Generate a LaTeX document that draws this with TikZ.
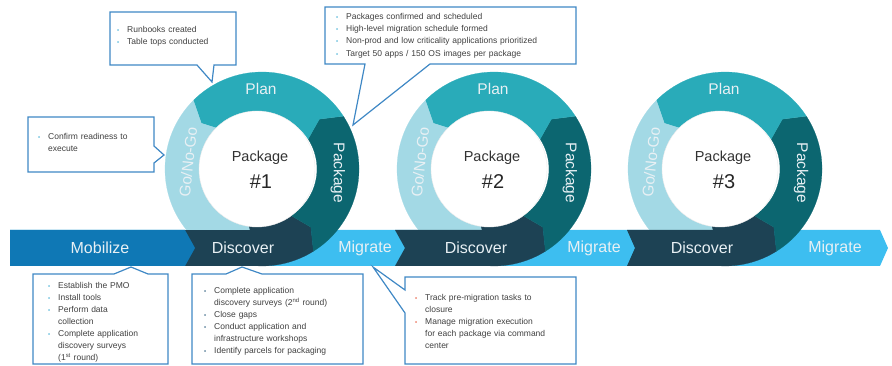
\documentclass[tikz,border=0pt]{standalone}
\usepackage{fontspec}
\setmainfont{Liberation Sans}
\usetikzlibrary{calc}
\definecolor{cplan}{HTML}{29ABB9}
\definecolor{cpack}{HTML}{0C6670}
\definecolor{cdisc}{HTML}{1D4254}
\definecolor{cgo}{HTML}{A3D9E5}
\definecolor{cmob}{HTML}{0F78B5}
\definecolor{cmig}{HTML}{3DBEF0}
\definecolor{cbox}{HTML}{3F88C5}
\definecolor{cbulb}{HTML}{45B0D5}
\definecolor{cbuld}{HTML}{2F5F7F}
\definecolor{cbulo}{HTML}{E8573A}
\definecolor{ctext}{HTML}{404040}
\definecolor{clbl}{HTML}{E8F0F4}
\setlength{\parskip}{0pt}
\tikzset{
 callout/.style={fill=white, draw=cbox, line width=1.2pt, line join=miter},
 ctxt/.style={anchor=north west, inner sep=0pt, text width=240pt, align=left, text=ctext, font=\fontsize{8.5}{12}\selectfont},
 bandlbl/.style={text=clbl, font=\fontsize{16}{16}\selectfont, inner sep=0pt},
 ringlbl/.style={text=clbl, font=\fontsize{15.5}{16}\selectfont, inner sep=0pt},
 pkgtxt/.style={text=black!80, font=\fontsize{14.5}{15}\selectfont, inner sep=0pt},
 pkgnum/.style={text=black!85, font=\fontsize{20}{20}\selectfont, inner sep=0pt},
}
\newcommand{\lbr}{\hfil\break}
\newcommand{\bitem}[2]{\noindent\hangindent=10pt\hangafter=1\makebox[10pt][l]{\textcolor{#1}{\fontsize{6}{6}\selectfont\textbullet}}\rule{0pt}{8pt}#2\par}
\newcommand{\seg}[3]{\fill[#1, draw=#1, line width=0.2pt] (#2:97) arc[start angle=#2, end angle=#3, radius=97] -- ({#3+8}:76) -- (#3:55) arc[start angle=#3, end angle=#2, radius=55] -- ({#2+8}:76) -- cycle;}
\newcommand{\pkgring}[4]{%
\begin{scope}[shift={(#1,#2)}, yscale=-1]
 \seg{cdisc}{255}{302}
 \seg{cpack}{-58}{33}
 \seg{cplan}{33}{135}
 \seg{cgo}{135}{255}
 \fill[white, draw=black!8, line width=0.4pt] (-5,0) circle[radius=58];
\end{scope}
 \node[ringlbl] (#4plan) at ($(#1,#2)+(-1,-80)$) {Plan};
 \node[ringlbl, rotate=-90] (#4pack) at ($(#1,#2)+(76,4)$) {Package};
 \node[ringlbl, rotate=84] (#4go) at ($(#1,#2)+(-74,-7)$) {Go/No-Go};
 \node[pkgtxt] (#4t) at ($(#1,#2)+(-2,-11)$) {Package};
 \node[pkgnum] (#4n) at ($(#1,#2)+(-1,13)$) {\##3};
}
\begin{document}
\begin{tikzpicture}[x=1pt, y=-1pt]
\useasboundingbox (0,0) rectangle (892,366);
% band
\fill[cmig] (10,230) -- (880,230) -- (888,248) -- (880,266) -- (10,266) -- cycle;
% rings
\pkgring{262}{169}{1}{r1}
\pkgring{494}{169}{2}{r2}
\pkgring{725}{169}{3}{r3}
% discover band parts
\fill[cdisc] (183,230) -- (262,230) -- (262,266) -- (183,266) -- cycle;
\fill[cdisc] (395,230) -- (494,230) -- (494,266) -- (395,266) -- (405,248) -- cycle;
\fill[cdisc] (627,230) -- (725,230) -- (725,266) -- (627,266) -- (635,248) -- cycle;
% mobilize
\fill[cmob] (10,230) -- (185,230) -- (195,248) -- (185,266) -- (10,266) -- cycle;
% band labels
\node[bandlbl] (lmob) at (100,248) {Mobilize};
\node[bandlbl] (ld1) at (243,248) {Discover};
\node[bandlbl] (lm1) at (365,248) {Migrate};
\node[bandlbl] (ld2) at (476,248) {Discover};
\node[bandlbl] (lm2) at (594,248) {Migrate};
\node[bandlbl] (ld3) at (702,248) {Discover};
\node[bandlbl] (lm3) at (835,248) {Migrate};
% callouts
\draw[callout] (110,12) -- (236,12) -- (236,65) -- (214,65) -- (212,82) -- (197,65) -- (110,65) -- cycle;
\node[ctxt] (ta) at (117,24) {\bitem{cbulb}{Runbooks created}\bitem{cbulb}{Table tops conducted}};
\draw[callout] (28,117) -- (154,117) -- (154,146) -- (164,155) -- (154,163) -- (154,172) -- (28,172) -- cycle;
\node[ctxt] (tb) at (38,131) {\bitem{cbulb}{Confirm readiness to\lbr execute}};
\draw[callout] (325,7) -- (576,7) -- (576,64) -- (430,64) -- (353,125) -- (365,64) -- (325,64) -- cycle;
\node[ctxt, font=\fontsize{8.5}{12.3}\selectfont] (tc) at (336,11) {\bitem{cbulb}{Packages confirmed and scheduled}\bitem{cbulb}{High-level migration schedule formed}\bitem{cbulb}{Non-prod and low criticality applications prioritized}\bitem{cbulb}{Target 50 apps / 150 OS images per package}};
\draw[callout] (33,274) -- (114,274) -- (131,267) -- (148,274) -- (168,274) -- (168,364) -- (33,364) -- cycle;
\node[ctxt] (td) at (48,280) {\bitem{cbulb}{Establish the PMO}\bitem{cbulb}{Install tools}\bitem{cbulb}{Perform data\lbr collection}\bitem{cbulb}{Complete application\lbr discovery surveys\lbr (1\textsuperscript{st} round)}};
\draw[callout] (192,274) -- (226,274) -- (242,267) -- (262,274) -- (363,274) -- (363,364) -- (192,364) -- cycle;
\node[ctxt] (te) at (204,285) {\bitem{cbuld}{Complete application\lbr discovery surveys (2\textsuperscript{nd} round)}\bitem{cbuld}{Close gaps}\bitem{cbuld}{Conduct application and\lbr infrastructure workshops}\bitem{cbuld}{Identify parcels for packaging}};
\draw[callout] (405,277) -- (576,277) -- (576,364) -- (405,364) -- (405,313) -- (373,267) -- (405,290) -- cycle;
\node[ctxt] (tf) at (415,292) {\bitem{cbulo}{Track pre-migration tasks to\lbr closure}\bitem{cbulo}{Manage migration execution\lbr for each package via command\lbr center}};
\end{tikzpicture}
\end{document}
